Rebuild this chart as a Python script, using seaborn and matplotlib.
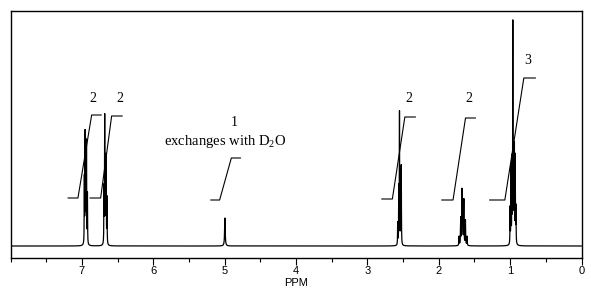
import numpy as np
import pandas as pd
import matplotlib
matplotlib.use("Agg")
import matplotlib.pyplot as plt
import seaborn as sns
from matplotlib.ticker import MultipleLocator

# ---- data ----
peak_ppm = [6.965, 6.955, 6.945, 6.935, 6.922,
            6.690, 6.680, 6.670, 6.660, 6.648,
            4.996,
            2.575, 2.560, 2.550, 2.535, 2.525,
            1.715, 1.692, 1.675, 1.665, 1.648, 1.626, 1.604,
            1.000, 0.988, 0.975, 0.962, 0.950, 0.940, 0.928, 0.918]
peak_height = [65, 108, 88, 100, 50,
               55, 125, 78, 86, 46,
               28,
               22, 55, 131, 45, 78,
               9, 27, 53, 40, 45, 25, 9,
               36, 76, 82, 219, 86, 95, 86, 36]
peak_hwhm = ([0.0022] * 10 + [0.005] + [0.0022] * 5 + [0.003] * 7
             + [0.0022] * 8)

integral_x0 = [7.195, 6.887, 5.196, 2.800, 1.960, 1.289]
integral_x1 = [7.055, 6.737, 5.070, 2.650, 1.800, 1.074]
integral_x2 = [6.863, 6.583, 4.906, 2.475, 1.625, 0.808]
integral_x3 = [6.727, 6.433, 4.776, 2.325, 1.485, 0.644]
integral_low = [48, 48, 46, 47, 46, 46]
integral_high = [131, 130, 88, 129, 128, 168]

label_text = ["2", "2", "1", "2", "2", "3"]
label_ppm = [6.846, 6.47, 4.87, 2.42, 1.58, 0.75]
label_y = [147, 147, 124, 147, 147, 185]

note_text = r"exchanges with $\mathrm{D_2O}$"
note_ppm = 4.99
note_y = 104

major_ticks = [0, 1, 2, 3, 4, 5, 6, 7]
tick_labels = ["0", "1", "2", "3", "4", "5", "6", "7"]

# ---- build spectrum from peak list ----
grid = np.union1d(np.linspace(0, 8, 16001), np.array(peak_ppm))
spec = np.zeros_like(grid)
for p, h, w in zip(peak_ppm, peak_height, peak_hwhm):
    spec += h * w**2 / ((grid - p) ** 2 + w**2)
df = pd.DataFrame({"ppm": grid, "intensity": spec})

sns.set_theme(style="white")
plt.rcParams["font.family"] = ["Liberation Sans", "DejaVu Sans"]
plt.rcParams["mathtext.fontset"] = "custom"
plt.rcParams["mathtext.rm"] = "Liberation Serif"
plt.rcParams["mathtext.it"] = "Liberation Serif:italic"

fig = plt.figure(figsize=(5.91, 2.94), dpi=100)
ax = fig.add_axes([10.5 / 591, 1 - 258 / 294, 571 / 591, 247.5 / 294])

sns.lineplot(data=df, x="ppm", y="intensity", ax=ax, color="black",
             lw=0.9, estimator=None, sort=False)

for a, b, c, d, lo, hi in zip(integral_x0, integral_x1, integral_x2,
                              integral_x3, integral_low, integral_high):
    ax.plot([a, b, c, d], [lo, lo, hi, hi], color="black", lw=0.8)

for t, x, y in zip(label_text, label_ppm, label_y):
    ax.text(x, y, t, ha="center", va="center", fontsize=10,
            family="Liberation Serif", color="black")
ax.text(note_ppm, note_y, note_text, ha="center", va="center", fontsize=10.5,
        family="Liberation Serif", color="black")

ax.set_xlim(8, 0)
ax.set_ylim(-12, 235.5)
ax.set_xticks(major_ticks)
ax.set_xticklabels(tick_labels, fontsize=8)
ax.xaxis.set_minor_locator(MultipleLocator(0.5))
ax.tick_params(axis="x", which="major", direction="out", length=5, width=0.8,
               pad=1, bottom=True, color="black", labelcolor="black")
ax.tick_params(axis="x", which="minor", direction="out", length=3, width=0.8,
               bottom=True, color="black")
ax.set_yticks([])
ax.set_ylabel("")
ax.set_xlabel("PPM", fontsize=8, labelpad=1.5, color="black")
for s in ax.spines.values():
    s.set_visible(True)
    s.set_color("black")
    s.set_linewidth(1.0)

fig.savefig("out.png", dpi=100)
